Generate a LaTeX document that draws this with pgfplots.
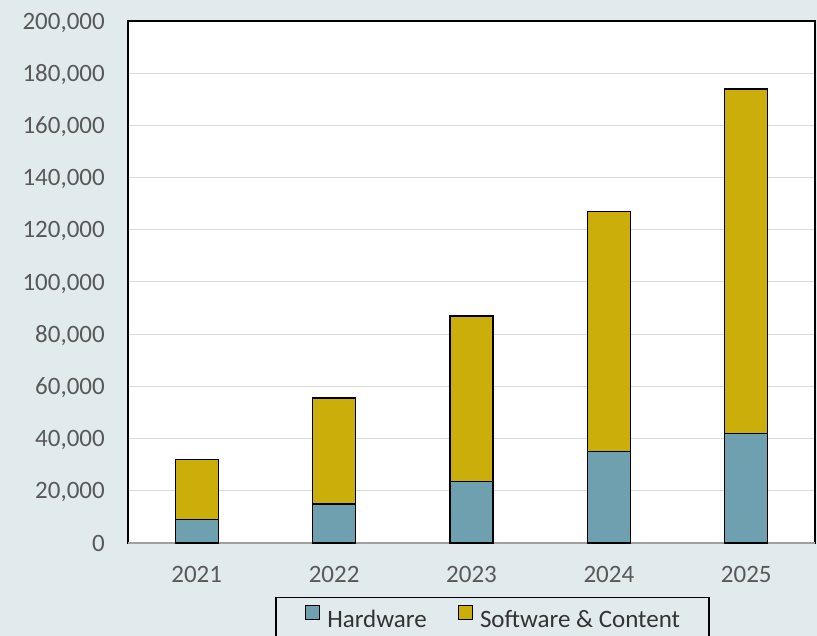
\documentclass[border=0pt]{standalone}
\usepackage{fontspec}
\setmainfont{Carlito}
\usepackage{pgfplots}
\pgfplotsset{compat=1.18}
\definecolor{bgcol}{HTML}{E1EAED}
\definecolor{hwcol}{HTML}{6FA0B0}
\definecolor{swcol}{HTML}{CCAE0A}
\definecolor{tickcol}{HTML}{595959}
\definecolor{gridcol}{HTML}{D9D9D9}
\definecolor{basecol}{HTML}{A0A0A0}
\begin{document}
\begin{tikzpicture}
\fill[bgcol] (-128bp,-93bp) rectangle (689bp,543bp);
\begin{axis}[
  at={(0,0)}, anchor=south west,
  scale only axis, width=687bp, height=522bp,
  xmin=-0.5, xmax=4.5, ymin=0, ymax=200000,
  ybar stacked, bar width=43bp,
  xtick={0,1,2,3,4}, xticklabels={2021,2022,2023,2024,2025},
  ytick={0,20000,40000,60000,80000,100000,120000,140000,160000,180000,200000},
  yticklabels={0,{20,000},{40,000},{60,000},{80,000},{100,000},{120,000},{140,000},{160,000},{180,000},{200,000}},
  scaled y ticks=false,
  ymajorgrids, grid style={gridcol, line width=1bp},
  major tick length=0pt,
  axis background/.style={fill=white},
  axis line style={black, line width=1.3bp},
  tick label style={font=\fontsize{25bp}{30bp}\selectfont, color=tickcol},
  yticklabel style={anchor=east, inner sep=0pt, xshift=-23bp, text depth=0pt},
  xticklabel style={anchor=north, inner sep=0pt, yshift=-23bp},
  legend columns=2,
  legend image code/.code={\draw[#1] (0bp,0bp) rectangle (14bp,14bp);},
  legend style={at={(0.5306,-0.1034)}, anchor=north, draw=black,
    line width=1.3bp, fill=bgcol, inner xsep=29bp, inner ysep=7bp,
    font=\fontsize{25bp}{30bp}\selectfont, text=black!80,
    nodes={inner xsep=0pt, inner ysep=2bp},
    /tikz/every odd column/.append style={column sep=7bp},
    /tikz/every even column/.append style={column sep=31bp}},
]
\addplot[fill=hwcol, draw=black, line width=1.3bp]
  coordinates {(0,9000) (1,15000) (2,23500) (3,35000) (4,42000)};
\addlegendentry{Hardware}
\addplot[fill=swcol, draw=black, line width=1.3bp]
  coordinates {(0,23000) (1,40600) (2,63500) (3,92000) (4,132000)};
\addlegendentry{Software \& Content}
\draw[basecol, line width=1.3bp] (rel axis cs:0,0) -- (rel axis cs:1,0);
\end{axis}
\pgfresetboundingbox
\useasboundingbox (-128bp,-93bp) rectangle (689bp,543bp);
\end{tikzpicture}
\end{document}
